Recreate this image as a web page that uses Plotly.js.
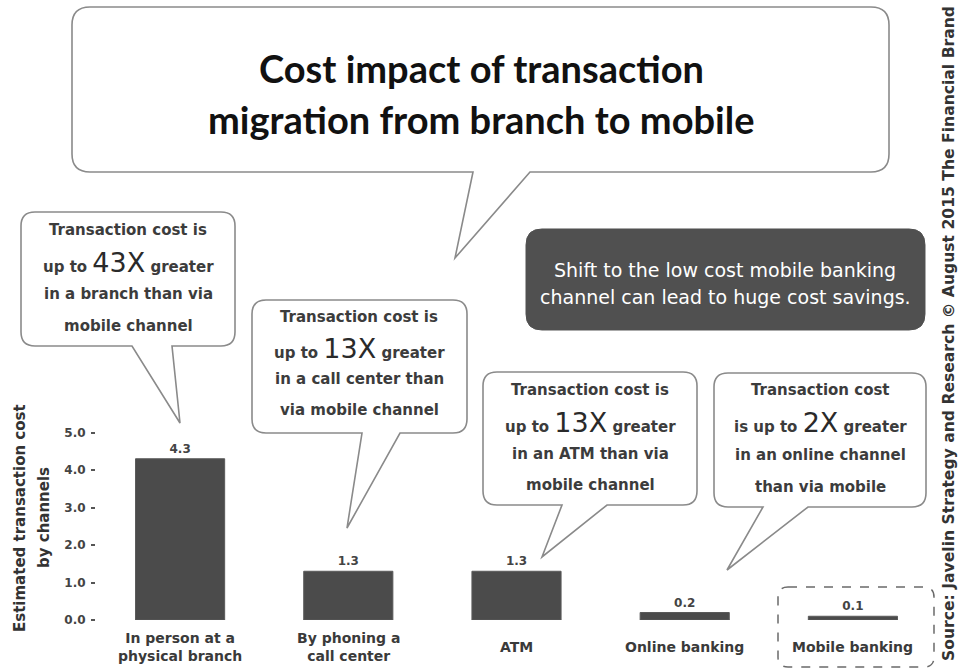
<!DOCTYPE html>
<html>
<head>
<meta charset="utf-8">
<script src="https://cdn.plot.ly/plotly-3.0.1.min.js"></script>
<style>html,body{margin:0;padding:0;background:#fff;}#chart{width:976px;height:669px;}</style>
</head>
<body>
<div id="chart"></div>
<script>
// ---- data ----
const categories = ['In person at a physical branch', 'By phoning a call center', 'ATM', 'Online banking', 'Mobile banking'];
const categoryLabels = ['In person at a<br>physical branch', 'By phoning a<br>call center', 'ATM', 'Online banking', 'Mobile banking'];
const costs = [4.3, 1.3, 1.3, 0.2, 0.1];
const costLabels = ['4.3', '1.3', '1.3', '0.2', '0.1'];
const yTicks = [0, 1, 2, 3, 4, 5];
const multiples = ['43X', '13X', '13X', '2X'];
const bubbleLines = [
  ['Transaction cost is', 'up to {m} greater', 'in a branch than via', 'mobile channel'],
  ['Transaction cost is', 'up to {m} greater', 'in a call center than', 'via mobile channel'],
  ['Transaction cost is', 'up to {m} greater', 'in an ATM than via', 'mobile channel'],
  ['Transaction cost', 'is up to {m} greater', 'in an online channel', 'than via mobile']
];
const titleLines = ['Cost impact of transaction', 'migration from branch to mobile'];
const calloutLines = ['Shift to the low cost mobile banking', 'channel can lead to huge cost savings.'];
const yTitleLines = ['Estimated transaction cost', 'by channels'];
const sourceText = 'Source: Javelin Strategy and Research \u00A9 August 2015 The Financial Brand';

// ---- geometry (pixels) ----
const FIG_W = 976, FIG_H = 669;
const M = {l: 96, r: 39, t: 425, b: 49};
const PW = FIG_W - M.l - M.r, PH = FIG_H - M.t - M.b;
const px = x => (x - M.l) / PW;
const py = y => (FIG_H - M.b - y) / PH;
const pt = (x, y) => px(x).toFixed(5) + ',' + py(y).toFixed(5);

function roundRect(x0, y0, x1, y1, r, tail) {
  let d = 'M' + pt(x0 + r, y0) + ' L' + pt(x1 - r, y0) + ' Q' + pt(x1, y0) + ' ' + pt(x1, y0 + r) +
          ' L' + pt(x1, y1 - r) + ' Q' + pt(x1, y1) + ' ' + pt(x1 - r, y1);
  if (tail) {
    d += ' L' + pt(tail.b, y1) + ' L' + pt(tail.tx, tail.ty) + ' L' + pt(tail.a, y1);
  }
  d += ' L' + pt(x0 + r, y1) + ' Q' + pt(x0, y1) + ' ' + pt(x0, y1 - r) +
       ' L' + pt(x0, y0 + r) + ' Q' + pt(x0, y0) + ' ' + pt(x0 + r, y0) + ' Z';
  return d;
}

const FONT = 'DejaVu Sans, Verdana, sans-serif';
const TITLE_FONT = 'Lato, Roboto, sans-serif';
const GREY_LINE = '#8a8a8a';

const bubbles = [
  {x0: 21, y0: 212, x1: 235, y1: 346, tail: {a: 132, b: 172, tx: 180, ty: 423}, cx: 128, ys: [230, 262, 294, 326]},
  {x0: 252, y0: 300, x1: 467, y1: 433, tail: {a: 362, b: 400, tx: 347, ty: 528}, cx: 359, ys: [317, 348, 379, 410]},
  {x0: 483, y0: 372, x1: 697, y1: 505, tail: {a: 562, b: 607, tx: 542, ty: 557}, cx: 590, ys: [390, 422, 454, 485]},
  {x0: 714, y0: 373, x1: 926, y1: 507, tail: {a: 763, b: 808, tx: 727, ty: 570}, cx: 820, ys: [390, 422, 455, 487]}
];

const shapes = [];
const annotations = [];

// title bubble
shapes.push({type: 'path', xref: 'paper', yref: 'paper', layer: 'below',
  path: roundRect(72, 7, 889, 172, 18, {a: 473, b: 530, tx: 455, ty: 258}),
  line: {color: GREY_LINE, width: 1.6}, fillcolor: '#ffffff'});
titleLines.forEach((t, i) => annotations.push({xref: 'paper', yref: 'paper', x: px(481), y: py([68, 119][i]),
  xanchor: 'center', yanchor: 'middle', showarrow: false, text: t,
  font: {family: TITLE_FONT, size: 38, color: '#111111', weight: 'bold'}}));

// callout bubbles
bubbles.forEach((b, k) => {
  shapes.push({type: 'path', xref: 'paper', yref: 'paper', layer: 'below',
    path: roundRect(b.x0, b.y0, b.x1, b.y1, 14, b.tail),
    line: {color: GREY_LINE, width: 1.6}, fillcolor: '#ffffff'});
  bubbleLines[k].forEach((line, i) => {
    const txt = line.replace('{m}', "<span style='font-size:27px;font-weight:normal;fill:#2a2a2a'>" + multiples[k] + '</span>');
    annotations.push({xref: 'paper', yref: 'paper', x: px(b.cx), y: py(b.ys[i]),
      xanchor: 'center', yanchor: 'middle', showarrow: false, text: txt,
      font: {family: FONT, size: 15, color: '#3c3c3c', weight: 'bold'}});
  });
});

// dark callout box
shapes.push({type: 'path', xref: 'paper', yref: 'paper', layer: 'below',
  path: roundRect(526, 229, 925, 330, 16, null),
  line: {color: '#505050', width: 1}, fillcolor: '#505050'});
calloutLines.forEach((t, i) => annotations.push({xref: 'paper', yref: 'paper', x: px(725), y: py([270, 297][i]),
  xanchor: 'center', yanchor: 'middle', showarrow: false, text: t,
  font: {family: FONT, size: 19, color: '#ffffff'}}));

// dashed box around mobile banking
shapes.push({type: 'path', xref: 'paper', yref: 'paper', layer: 'below',
  path: roundRect(778, 587, 934, 667, 10, null),
  line: {color: '#6a6a6a', width: 1.5, dash: 'dash'}, fillcolor: 'rgba(0,0,0,0)'});

// y-axis title (two lines)
yTitleLines.forEach((t, i) => annotations.push({xref: 'paper', yref: 'paper', x: px([20, 44][i]), y: py(518),
  xanchor: 'center', yanchor: 'middle', showarrow: false, textangle: -90, text: t,
  font: {family: FONT, size: 15, color: '#333333', weight: 'bold'}}));

// category labels
categories.forEach((c, i) => annotations.push({xref: 'x', yref: 'paper', x: c, y: py(647),
  xanchor: 'center', yanchor: 'middle', showarrow: false, text: categoryLabels[i],
  font: {family: FONT, size: 14, color: '#3a3a3a', weight: 'bold'}}));

// source
annotations.push({xref: 'paper', yref: 'paper', x: px(949), y: py(334),
  xanchor: 'center', yanchor: 'middle', showarrow: false, textangle: -90, text: sourceText,
  font: {family: FONT, size: 15.6, color: '#333333', weight: 'bold'}});

const trace = {
  type: 'bar', x: categories, y: costs, width: 0.53,
  marker: {color: '#4b4b4b', line: {color: '#5a5a5a', width: 1}},
  text: costLabels, textposition: 'outside', cliponaxis: false,
  textfont: {family: FONT, size: 12, color: '#444444', weight: 'bold'},
  hoverinfo: 'skip'
};

const layout = {
  width: FIG_W, height: FIG_H,
  margin: M,
  paper_bgcolor: '#ffffff', plot_bgcolor: 'rgba(0,0,0,0)',
  showlegend: false,
  xaxis: {type: 'category', range: [-0.5, 4.5], showticklabels: false, showgrid: false, zeroline: false, showline: false, ticks: '', fixedrange: true},
  yaxis: {range: [0, 5.2], tickvals: yTicks, tickformat: '.1f', ticks: 'outside', ticklen: 4, tickwidth: 2, tickcolor: '#555555',
    ticklabelstandoff: 3,
    showgrid: false, zeroline: false, showline: false,
    tickfont: {family: FONT, size: 12, color: '#444444', weight: 'bold'}, fixedrange: true},
  shapes: shapes,
  annotations: annotations,
  bargap: 0.47
};

Plotly.newPlot('chart', [trace], layout, {displayModeBar: false, staticPlot: true});
</script>
</body>
</html>
